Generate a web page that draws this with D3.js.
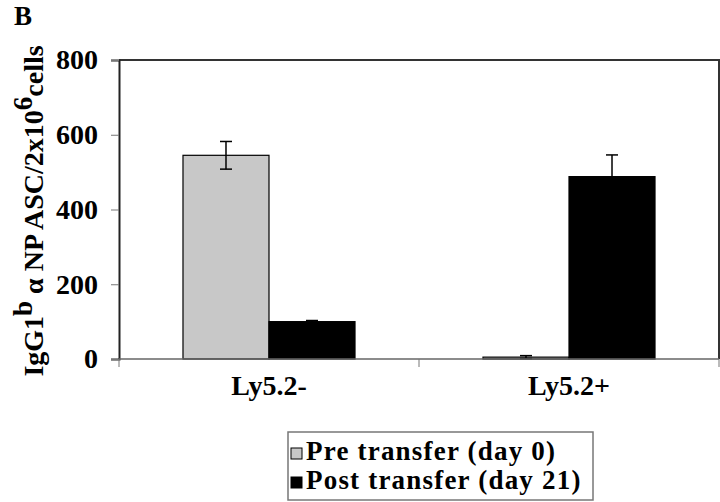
<!DOCTYPE html>
<html>
<head>
<meta charset="utf-8">
<script src="https://d3js.org/d3.v7.min.js"></script>
<style>
  body { margin: 0; background: #fff; }
  text { font-family: "Liberation Serif", "Times New Roman", serif; font-weight: bold; }
</style>
</head>
<body>
<div id="chart"></div>
<script>
// Data
const categories = ['Ly5.2-', 'Ly5.2+'];
const series = ['Pre transfer (day 0)', 'Post transfer (day 21)'];
const preValues = [545, 5];
const preErrors = [37, 4];
const postValues = [100, 488];
const postErrors = [3, 58];
const yTicks = [0, 200, 400, 600, 800];

const width = 720, height = 502;
const margin = { top: 60, right: 1, bottom: 143, left: 119 };
const innerW = width - margin.left - margin.right;
const innerH = height - margin.top - margin.bottom;

const colors = { 'Pre transfer (day 0)': '#c8c8c8', 'Post transfer (day 21)': '#000000' };

const rows = [];
categories.forEach((c, i) => {
    rows.push({ cat: c, ser: series[0], value: preValues[i], err: preErrors[i] });
    rows.push({ cat: c, ser: series[1], value: postValues[i], err: postErrors[i] });
});

const svg = d3.select('#chart').append('svg')
    .attr('width', width)
    .attr('height', height);

const g = svg.append('g')
    .attr('transform', `translate(${margin.left},${margin.top})`);

const x0 = d3.scaleBand().domain(categories).range([0, innerW]).padding(0);
const x1 = d3.scaleBand().domain(series).range([0, x0.bandwidth()])
    .paddingInner(0).paddingOuter(0.744);
const y = d3.scaleLinear().domain([0, 800]).range([innerH, 0]);

// Frame (top and right)
g.append('path')
    .attr('d', `M0,0H${innerW}V${innerH}`)
    .attr('fill', 'none')
    .attr('stroke', '#333')
    .attr('stroke-width', 2);

// Bars
g.selectAll('.bar')
    .data(rows)
    .enter()
    .append('rect')
    .attr('class', 'bar')
    .attr('x', d => x0(d.cat) + x1(d.ser))
    .attr('y', d => y(d.value))
    .attr('width', x1.bandwidth())
    .attr('height', d => innerH - y(d.value))
    .attr('fill', d => colors[d.ser])
    .attr('stroke', '#000')
    .attr('stroke-width', 1.2);

// Error bars
const cap = 6;
const eb = g.selectAll('.err')
    .data(rows)
    .enter()
    .append('g')
    .attr('class', 'err')
    .attr('transform', d => `translate(${x0(d.cat) + x1(d.ser) + x1.bandwidth() / 2},0)`)
    .attr('stroke', '#000')
    .attr('stroke-width', 1.5);

eb.append('line')
    .attr('y1', d => y(d.value + d.err))
    .attr('y2', d => y(Math.max(0, d.value - d.err)));
eb.append('line')
    .attr('x1', -cap).attr('x2', cap)
    .attr('y1', d => y(d.value + d.err))
    .attr('y2', d => y(d.value + d.err));
eb.append('line')
    .attr('x1', -cap).attr('x2', cap)
    .attr('y1', d => y(Math.max(0, d.value - d.err)))
    .attr('y2', d => y(Math.max(0, d.value - d.err)));

// Y axis
const yAxis = g.append('g')
    .call(d3.axisLeft(y).tickValues(yTicks).tickSize(8).tickPadding(13));
yAxis.select('.domain').attr('stroke', '#222').attr('stroke-width', 2);
yAxis.selectAll('.tick line').attr('stroke', '#777');
yAxis.selectAll('text')
    .attr('font-size', '28px')
    .attr('fill', '#000');

// X axis - ticks at category boundaries
const xAxis = g.append('g')
    .attr('transform', `translate(0,${innerH})`);
xAxis.append('line')
    .attr('x1', 0).attr('x2', innerW)
    .attr('stroke', '#666').attr('stroke-width', 1.5);
const bounds = [0].concat(categories.map(c => x0(c) + x0.bandwidth()));
xAxis.selectAll('.xtick')
    .data(bounds)
    .enter()
    .append('line')
    .attr('x1', d => d).attr('x2', d => d)
    .attr('y1', 0).attr('y2', 8)
    .attr('stroke', '#777');
xAxis.selectAll('.xlabel')
    .data(categories)
    .enter()
    .append('text')
    .attr('x', d => x0(d) + x0.bandwidth() / 2)
    .attr('y', 36)
    .attr('text-anchor', 'middle')
    .attr('font-size', '28px')
    .text(d => d);

// Y axis title
const yt = svg.append('text')
    .attr('transform', 'translate(43,211) rotate(-90)')
    .attr('text-anchor', 'middle')
    .attr('font-size', '28px');
yt.append('tspan').text('IgG1');
yt.append('tspan').attr('baseline-shift', '40%').attr('font-size', '27px').text('b');
yt.append('tspan').text(' α NP ASC/2x10');
yt.append('tspan').attr('baseline-shift', '40%').attr('font-size', '27px').text('6');
yt.append('tspan').text('cells');

// Panel letter
svg.append('text')
    .attr('x', 14).attr('y', 25)
    .attr('font-size', '27px')
    .text('B');

// Legend
const legend = svg.append('g').attr('transform', 'translate(288,432)');
legend.append('rect')
    .attr('width', 305).attr('height', 68)
    .attr('fill', '#fff')
    .attr('stroke', '#777')
    .attr('stroke-width', 1.5);
const items = legend.selectAll('.item')
    .data(series)
    .enter()
    .append('g')
    .attr('transform', (d, i) => `translate(3,${i * 29})`);
items.append('rect')
    .attr('y', 16)
    .attr('width', 11).attr('height', 11)
    .attr('fill', d => colors[d])
    .attr('stroke', '#000')
    .attr('stroke-width', 1);
items.append('text')
    .attr('x', 15)
    .attr('y', 28)
    .attr('font-size', '27px')
    .attr('letter-spacing', '1.2px')
    .text(d => d);
</script>
</body>
</html>
